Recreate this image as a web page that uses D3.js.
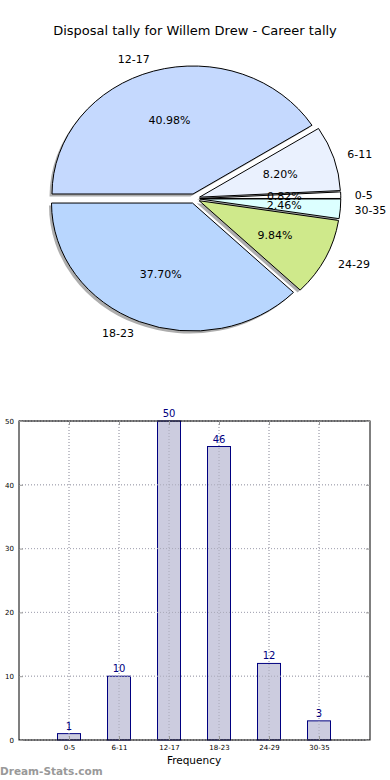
<!DOCTYPE html>
<html>
<head>
<meta charset="utf-8">
<script src="https://cdn.jsdelivr.net/npm/d3@7"></script>
<style>
  body { margin: 0; background: #fff; }
  svg { font-family: "DejaVu Sans", sans-serif; display: block; }
</style>
</head>
<body>
<svg id="chart" width="390" height="780"></svg>
<script>
// data
var categories = ["0-5", "6-11", "12-17", "18-23", "24-29", "30-35"];
var counts = [1, 10, 50, 46, 12, 3];
var sliceColors = ["#ffffff", "#eaf1fe", "#c5d9fe", "#b8d6fe", "#cfe98b", "#dcffff"];
var yTicks = [0, 10, 20, 30, 40, 50];

var svg = d3.select("#chart");
var total = d3.sum(counts);

// title
svg.append("text")
  .attr("x", 195).attr("y", 35)
  .attr("text-anchor", "middle")
  .attr("font-size", 13)
  .text("Disposal tally for Willem Drew - Career tally");

// pie (stretched like the original: not equal aspect)
var cx = 194.5, cy = 198.6, rx = 141, ry = 128, explode = 4.8;
var sx = rx / ry;

var pie = d3.pie().sort(null)
  .startAngle(Math.PI / 2)
  .endAngle(Math.PI / 2 - 2 * Math.PI);
var arcs = pie(counts);
var arc = d3.arc().innerRadius(0).outerRadius(ry);

function offset(d, k) {
  var a = (d.startAngle + d.endAngle) / 2;
  return [Math.sin(a) * k, -Math.cos(a) * k];
}

var pieG = svg.append("g");

// shadows
arcs.forEach(function (d) {
  var o = offset(d, explode);
  pieG.append("g")
    .attr("transform", "translate(" + (cx - 2.5) + "," + (cy + 2.5) + ") scale(" + sx + ",1)")
    .append("path")
    .attr("transform", "translate(" + o[0] + "," + o[1] + ")")
    .attr("d", arc(d))
    .attr("fill", "#777")
    .attr("opacity", 0.6);
});

// wedges
arcs.forEach(function (d, i) {
  var o = offset(d, explode);
  pieG.append("g")
    .attr("transform", "translate(" + cx + "," + cy + ") scale(" + sx + ",1)")
    .append("path")
    .attr("transform", "translate(" + o[0] + "," + o[1] + ")")
    .attr("d", arc(d))
    .attr("fill", sliceColors[i])
    .attr("stroke", "#000")
    .attr("stroke-width", 1)
    .attr("vector-effect", "non-scaling-stroke");
});

// labels
arcs.forEach(function (d, i) {
  var o = offset(d, explode);
  var a = (d.startAngle + d.endAngle) / 2;
  var ux = Math.sin(a), uy = -Math.cos(a);
  var bx = cx + o[0] * sx, by = cy + o[1];
  svg.append("text")
    .attr("x", bx + ux * rx * 1.1)
    .attr("y", by + uy * ry * 1.1)
    .attr("dy", "0.35em")
    .attr("text-anchor", ux > 0 ? "start" : "end")
    .attr("font-size", 11)
    .text(categories[i]);
  svg.append("text")
    .attr("x", bx + ux * rx * 0.6)
    .attr("y", by + uy * ry * 0.6)
    .attr("dy", "0.35em")
    .attr("text-anchor", "middle")
    .attr("font-size", 11)
    .text(d3.format(".2f")(counts[i] / total * 100) + "%");
});

// bar chart
var plotLeft = 19, plotRight = 370, plotTop = 421, plotBottom = 740;
var x = d3.scaleLinear().domain([-1, 6.02]).range([plotLeft, plotRight]);
var y = d3.scaleLinear().domain([0, 50]).range([plotBottom, plotTop]);
var barW = 0.46;

var bars = svg.append("g");

// grid
bars.selectAll(".gy").data(yTicks).enter().append("line")
  .attr("x1", plotLeft).attr("x2", plotRight)
  .attr("y1", function (d) { return y(d); }).attr("y2", function (d) { return y(d); })
  .attr("stroke", "#b8b8b8").attr("stroke-dasharray", "1,2");
bars.selectAll(".gx").data(categories).enter().append("line")
  .attr("x1", function (d, i) { return x(i); }).attr("x2", function (d, i) { return x(i); })
  .attr("y1", plotTop).attr("y2", plotBottom)
  .attr("stroke", "#b8b8b8").attr("stroke-dasharray", "1,2");

bars.selectAll("rect.bar").data(counts).enter().append("rect")
  .attr("class", "bar")
  .attr("x", function (d, i) { return x(i - barW / 2); })
  .attr("width", x(barW) - x(0))
  .attr("y", function (d) { return y(d); })
  .attr("height", function (d) { return y(0) - y(d); })
  .attr("fill", "#ccccdf")
  .attr("stroke", "#000080")
  .attr("stroke-width", 1);

// grid drawn over the bars as well
bars.selectAll(".gx2").data(categories).enter().append("line")
  .attr("x1", function (d, i) { return x(i); }).attr("x2", function (d, i) { return x(i); })
  .attr("y1", plotTop).attr("y2", plotBottom)
  .attr("stroke", "#a8a8b8").attr("stroke-dasharray", "1,2");
bars.selectAll(".gy2").data(yTicks).enter().append("line")
  .attr("x1", plotLeft).attr("x2", plotRight)
  .attr("y1", function (d) { return y(d); }).attr("y2", function (d) { return y(d); })
  .attr("stroke", "#a8a8b8").attr("stroke-dasharray", "1,2");

bars.selectAll("text.val").data(counts).enter().append("text")
  .attr("class", "val")
  .attr("x", function (d, i) { return x(i); })
  .attr("y", function (d) { return y(d) - 4; })
  .attr("text-anchor", "middle")
  .attr("font-size", 10)
  .attr("fill", "#000080")
  .text(function (d) { return d; });

// frame
bars.append("rect")
  .attr("x", plotLeft).attr("y", plotTop)
  .attr("width", plotRight - plotLeft).attr("height", plotBottom - plotTop)
  .attr("fill", "none").attr("stroke", "#000").attr("stroke-width", 1);

// axes
var yAxis = d3.axisLeft(y).tickValues(yTicks).tickSize(-4).tickPadding(5);
var yAxisR = d3.axisRight(y).tickValues(yTicks).tickSize(-4).tickFormat("");
var xAxis = d3.axisBottom(x).tickValues(d3.range(categories.length))
  .tickFormat(function (i) { return categories[i]; }).tickSize(-4).tickPadding(5);
var xAxisT = d3.axisTop(x).tickValues(d3.range(categories.length)).tickSize(-4).tickFormat("");

function style(g) {
  g.select(".domain").remove();
  g.selectAll(".tick line").attr("stroke", "#999");
  g.selectAll(".tick text").attr("font-size", 7).attr("fill", "#000")
    .attr("font-family", "DejaVu Sans, sans-serif");
}
svg.append("g").attr("transform", "translate(" + plotLeft + ",0)").call(yAxis).call(style);
svg.append("g").attr("transform", "translate(" + plotRight + ",0)").call(yAxisR).call(style);
svg.append("g").attr("transform", "translate(0," + plotBottom + ")").call(xAxis).call(style);
svg.append("g").attr("transform", "translate(0," + plotTop + ")").call(xAxisT).call(style);

svg.append("text")
  .attr("x", 194).attr("y", 764)
  .attr("text-anchor", "middle")
  .attr("font-size", 10.5)
  .text("Frequency");

svg.append("text")
  .attr("x", 0).attr("y", 775)
  .attr("font-size", 10.5)
  .attr("font-weight", "bold")
  .attr("fill", "#999")
  .text("Dream-Stats.com");
</script>
</body>
</html>
